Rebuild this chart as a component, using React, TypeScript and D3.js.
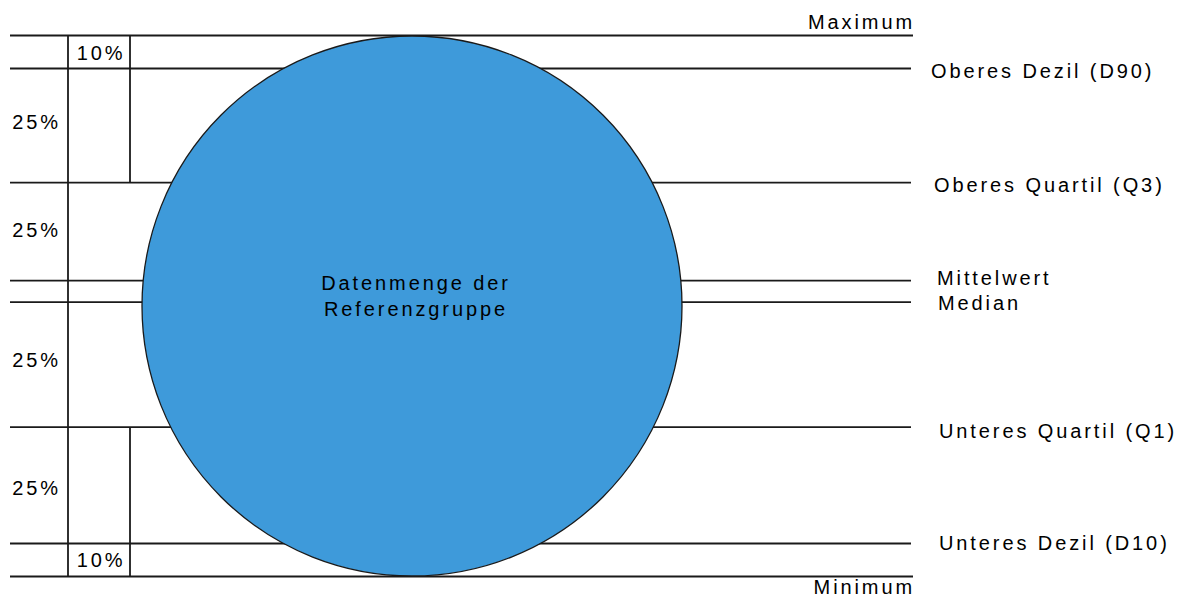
import { scaleLinear } from 'd3'

// schematic position of each statistic, 0 = Minimum, 100 = Maximum
const levelNames = ['Maximum', 'Oberes Dezil (D90)', 'Oberes Quartil (Q3)', 'Mittelwert', 'Median', 'Unteres Quartil (Q1)', 'Unteres Dezil (D10)', 'Minimum']
const levelValues = [100, 93.9, 72.8, 54.7, 50.7, 27.6, 6.1, 0]

// quarter bands (from, to) and their share label
const quarterBands = [[72.8, 100], [50.7, 72.8], [27.6, 50.7], [0, 27.6]]
const quarterLabels = ['25%', '25%', '25%', '25%']

// decile bands
const decileBands = [[93.9, 100], [0, 6.1]]
const decileLabels = ['10%', '10%']

const circleTitle = ['Datenmenge der', 'Referenzgruppe']

// layout tweaks for the right side labels
const labelX: Record<string, number> = {
  'Oberes Dezil (D90)': 931,
  'Oberes Quartil (Q3)': 934,
  Mittelwert: 937,
  Median: 938,
  'Unteres Quartil (Q1)': 939,
  'Unteres Dezil (D10)': 939,
}
const labelDy: Record<string, number> = {
  Maximum: -6.5,
  'Oberes Dezil (D90)': 9,
  'Oberes Quartil (Q3)': 9,
  Mittelwert: 4.6,
  Median: 7.8,
  'Unteres Quartil (Q1)': 11,
  'Unteres Dezil (D10)': 7,
  Minimum: 17.5,
}
const quarterDy = [20, -5, 2, -7]

export default function App() {
  const width = 1188
  const height = 599
  const left = 10
  const right = 911
  const col1 = 68
  const col2 = 130
  const cx = 412

  const y = scaleLinear().domain([0, 100]).range([576.5, 35.5])
  const r = (y(0) - y(100)) / 2 - 0.5
  const cy = y(50)

  const font = {
    fontFamily: '"Liberation Sans", Arial, sans-serif',
    fontSize: 20,
    letterSpacing: 2.9,
    fill: '#000',
  }
  const line = { stroke: '#1a1a1a', strokeWidth: 1.8 }

  return (
    <svg width={width} height={height} style={{ position: 'absolute', left: 0, top: 0 }}>
      <rect width={width} height={height} fill="#fff" />

      {levelNames.map((name, i) => {
        const edge = name === 'Maximum' || name === 'Minimum'
        return (
          <line key={name} x1={left} x2={edge ? right + 2 : right} y1={y(levelValues[i])} y2={y(levelValues[i])} {...line} />
        )
      })}

      <line x1={col1} x2={col1} y1={y(100)} y2={y(0)} {...line} />
      <line x1={col2} x2={col2} y1={y(100)} y2={y(72.8)} {...line} />
      <line x1={col2} x2={col2} y1={y(27.6)} y2={y(0)} {...line} />

      <circle cx={cx} cy={cy} r={r} fill="#3e9ada" stroke="#1a1a1a" strokeWidth={1.3} />

      {circleTitle.map((t, i) => (
        <text key={t} x={cx + 4} y={289.5 + i * 26.5} textAnchor="middle" {...font}>
          {t}
        </text>
      ))}

      {quarterBands.map(([a, b], i) => (
        <text key={`q-${i}`} x={left + 26.5} y={(y(a) + y(b)) / 2 + quarterDy[i]} textAnchor="middle" {...font}>
          {quarterLabels[i]}
        </text>
      ))}

      {decileBands.map(([a, b], i) => (
        <text key={`d-${i}`} x={(col1 + col2) / 2 + 2} y={(y(a) + y(b)) / 2 + 7.5} textAnchor="middle" {...font}>
          {decileLabels[i]}
        </text>
      ))}

      {levelNames.map((name, i) => {
        const edge = name === 'Maximum' || name === 'Minimum'
        return (
          <text
            key={`l-${name}`}
            x={edge ? right + 4 : labelX[name]}
            y={y(levelValues[i]) + labelDy[name]}
            textAnchor={edge ? 'end' : 'start'}
            {...font}
          >
            {name}
          </text>
        )
      })}
    </svg>
  )
}
